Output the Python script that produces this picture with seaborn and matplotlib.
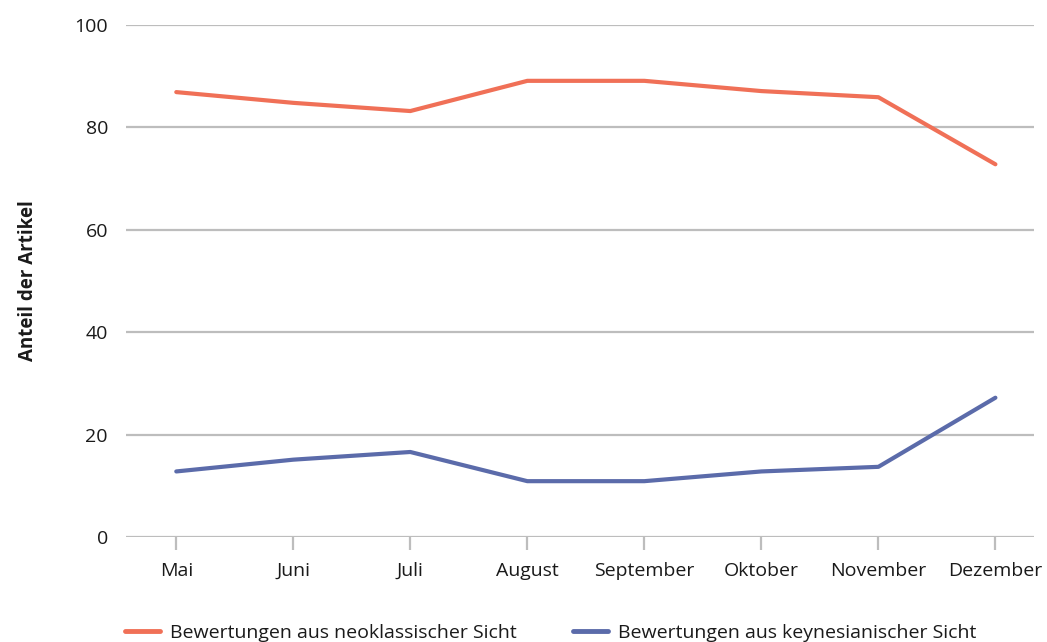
import pandas as pd
import numpy as np
import matplotlib.pyplot as plt
import seaborn as sns

monate = ["Mai", "Juni", "Juli", "August", "September", "Oktober", "November", "Dezember"]
neoklassisch = [86.9, 84.8, 83.2, 89.1, 89.1, 87.1, 85.9, 72.8]
keynesianisch = [12.8, 15.1, 16.6, 10.9, 10.9, 12.8, 13.7, 27.2]
serien = ["Bewertungen aus neoklassischer Sicht", "Bewertungen aus keynesianischer Sicht"]

df = pd.DataFrame({
    "Monat": monate * 2,
    "Anteil": neoklassisch + keynesianisch,
    "Serie": [serien[0]] * len(monate) + [serien[1]] * len(monate),
})
df["x"] = df["Monat"].map({m: i for i, m in enumerate(monate)})

sns.set_style("white")
plt.rcParams["font.family"] = ["Open Sans", "DejaVu Sans"]
plt.rcParams["text.color"] = "#1a1a1a"
plt.rcParams["xtick.color"] = "#1a1a1a"
plt.rcParams["ytick.color"] = "#1a1a1a"
plt.rcParams["axes.labelcolor"] = "#1a1a1a"

fig = plt.figure(figsize=(10.47, 6.42), dpi=100)
ax = fig.add_axes([0.1203, 0.1636, 0.8673, 0.7974])

palette = {serien[0]: "#F07057", serien[1]: "#5B6BAA"}
sns.lineplot(data=df, x="x", y="Anteil", hue="Serie", palette=palette,
             linewidth=3, ax=ax, legend=False)

ax.set_xlim(-0.43, 7.33)
ax.set_ylim(0, 100)
ax.set_yticks([0, 20, 40, 60, 80, 100])
ax.set_xticks(range(len(monate)))
ax.set_xticklabels(monate)
ax.yaxis.grid(True, color="#BDBDBD", linewidth=1.6)
ax.set_axisbelow(True)
for s in ax.spines.values():
    s.set_visible(False)
ax.tick_params(axis="x", bottom=True, length=9, width=1.6, color="#BDBDBD",
               labelcolor="#1a1a1a", labelsize=14, pad=9)
ax.tick_params(axis="y", left=False, length=0, labelsize=14, pad=13)
ax.set_xlabel("")
ax.set_ylabel("Anteil der Artikel", fontsize=13.5, fontweight="bold", labelpad=26)

handles = [plt.Line2D([], [], color=palette[s], linewidth=3.5) for s in serien]
fig.legend(handles, serien, loc="lower left", bbox_to_anchor=(0.103, -0.027), ncol=2,
           frameon=False, fontsize=14, handlelength=1.8, columnspacing=2.9,
           handletextpad=0.5)

fig.savefig("out.png", dpi=100)
